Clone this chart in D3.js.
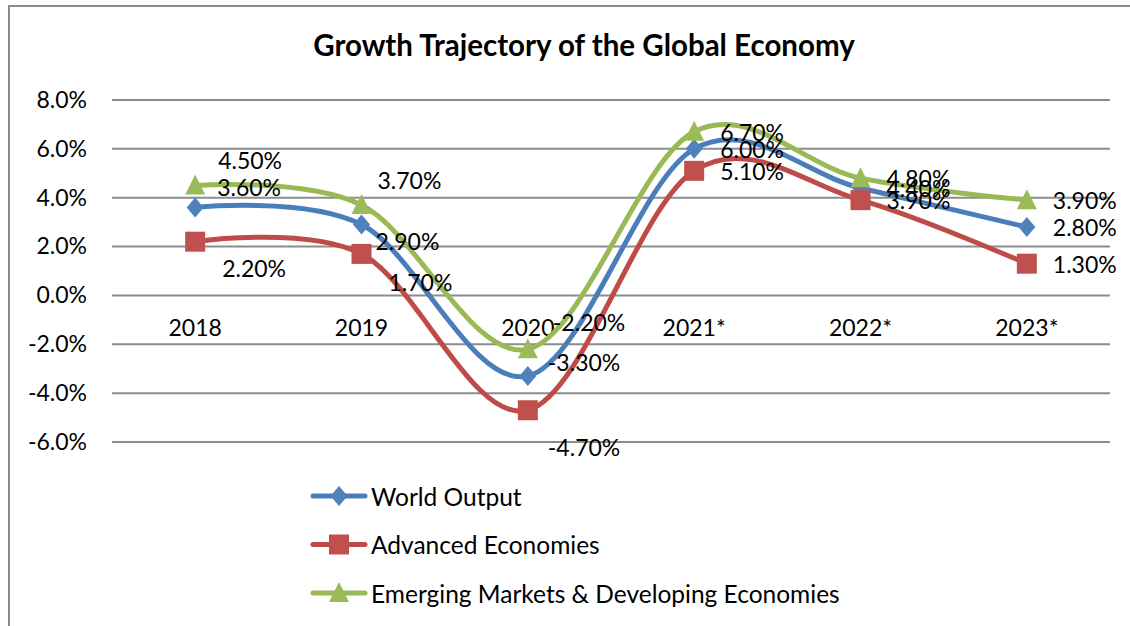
<!DOCTYPE html>
<html>
<head>
<meta charset="utf-8">
<script src="https://cdn.jsdelivr.net/npm/d3@7"></script>
<style>
  html, body { margin: 0; padding: 0; background: #fff; }
  svg { display: block; }
  text { font-family: Lato, "Open Sans", sans-serif; fill: #000; }
</style>
</head>
<body>
<svg id="chart" width="1130" height="626"></svg>
<script>
// Growth data, percent change per year
const years = ["2018", "2019", "2020", "2021*", "2022*", "2023*"];
const seriesNames = ["World Output", "Advanced Economies", "Emerging Markets & Developing Economies"];
const worldOutput = [3.6, 2.9, -3.3, 6.0, 4.4, 2.8];
const advancedEconomies = [2.2, 1.7, -4.7, 5.1, 3.9, 1.3];
const emergingMarkets = [4.5, 3.7, -2.2, 6.7, 4.8, 3.9];
const yTicks = [-6, -4, -2, 0, 2, 4, 6, 8];

// Label offsets from each marker (px), per series, per year
const labelOffsets = [
  [[22, -20], [14, 16], [20, -14], [26, 0], [26, 0], [26, 0]],
  [[27, 26], [27, 28], [20, 37], [26, 0], [26, 0], [26, 0]],
  [[23, -26], [16, -25], [25, -27], [26, 0], [26, 0], [26, 0]]
];

const styles = [
  { line: "#4A7EBB", fill: "#4F81BD", shape: "diamond" },
  { line: "#BE4B48", fill: "#C0504D", shape: "square" },
  { line: "#98B954", fill: "#9BBB59", shape: "triangle" }
];

const seriesValues = [worldOutput, advancedEconomies, emergingMarkets];

const svg = d3.select("#chart");

// Chart frame
svg.append("rect")
  .attr("x", 9).attr("y", 6)
  .attr("width", 1140).attr("height", 640)
  .attr("fill", "none").attr("stroke", "#8a8a8a").attr("stroke-width", 2);

svg.append("text")
  .attr("x", 584).attr("y", 44)
  .attr("text-anchor", "middle").attr("dominant-baseline", "central")
  .attr("font-size", 29.5).attr("font-weight", "bold")
  .text("Growth Trajectory of the Global Economy");

const plot = { left: 112, right: 1110, top: 100, bottom: 442 };

const x = d3.scaleBand().domain(years).range([plot.left, plot.right]);
const y = d3.scaleLinear().domain([-6, 8]).range([plot.bottom, plot.top]);
const cx = d => x(d) + x.bandwidth() / 2;

// Gridlines
svg.append("g").selectAll("line").data(yTicks).join("line")
  .attr("x1", plot.left).attr("x2", plot.right)
  .attr("y1", d => y(d)).attr("y2", d => y(d))
  .attr("stroke", "#8c8c8c").attr("stroke-width", 2);

// Y axis labels
const yAxis = svg.append("g")
  .attr("transform", `translate(${plot.left - 25},0)`)
  .call(d3.axisLeft(y).tickValues(yTicks).tickSize(0).tickPadding(0)
    .tickFormat(d => d.toFixed(1).replace("\u2212", "-") + "%"));
yAxis.select(".domain").remove();
yAxis.selectAll("text")
  .attr("font-size", 23).attr("font-family", "Lato, sans-serif").attr("fill", "#000");

// X axis category labels sit just under the zero line
const xAxis = svg.append("g")
  .attr("transform", `translate(0,${y(0)})`)
  .call(d3.axisBottom(x).tickSize(0));
xAxis.select(".domain").remove();
xAxis.selectAll("text")
  .attr("y", 33).attr("dy", "0.35em")
  .attr("font-size", 23).attr("font-family", "Lato, sans-serif").attr("fill", "#000");

const line = d3.line()
  .x((d, i) => cx(years[i]))
  .y(d => y(d))
  .curve(d3.curveCatmullRom.alpha(0));

function markerPath(shape) {
  if (shape === "diamond") return "M0,-10L8.5,0L0,10L-8.5,0Z";
  if (shape === "square") return "M-10,-10H10V10H-10Z";
  return "M0,-11L10,9H-10Z";
}

seriesValues.forEach((vals, s) => {
  const g = svg.append("g");
  g.append("path")
    .attr("d", line(vals))
    .attr("fill", "none")
    .attr("stroke", styles[s].line)
    .attr("stroke-width", 5)
    .attr("stroke-linejoin", "round")
    .attr("stroke-linecap", "round");
  g.selectAll("path.marker").data(vals).join("path")
    .attr("class", "marker")
    .attr("transform", (d, i) => `translate(${cx(years[i])},${y(d)})`)
    .attr("d", markerPath(styles[s].shape))
    .attr("fill", styles[s].fill);
});

// Data labels
seriesValues.forEach((vals, s) => {
  svg.append("g").selectAll("text").data(vals).join("text")
    .attr("x", (d, i) => cx(years[i]) + labelOffsets[s][i][0])
    .attr("y", (d, i) => y(d) + labelOffsets[s][i][1])
    .attr("dominant-baseline", "central")
    .attr("font-size", 23)
    .text(d => d.toFixed(2) + "%");
});

// Legend
const legend = svg.append("g");
seriesNames.forEach((name, s) => {
  const ly = 496 + s * 48.5;
  legend.append("line")
    .attr("x1", 313).attr("x2", 365).attr("y1", ly).attr("y2", ly)
    .attr("stroke", styles[s].line).attr("stroke-width", 5)
    .attr("stroke-linecap", "round");
  legend.append("path")
    .attr("transform", `translate(339,${ly})`)
    .attr("d", markerPath(styles[s].shape))
    .attr("fill", styles[s].fill);
  legend.append("text")
    .attr("x", 371).attr("y", ly)
    .attr("dominant-baseline", "central")
    .attr("font-size", 24.5)
    .text(name);
});
</script>
</body>
</html>
